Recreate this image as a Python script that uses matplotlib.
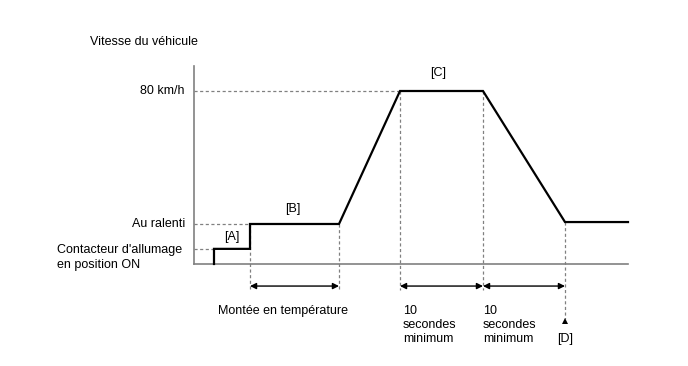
import matplotlib
matplotlib.use("Agg")
import matplotlib.pyplot as plt

plt.rcParams['font.family'] = ['Liberation Sans', 'DejaVu Sans']

# Speed profile (schematic): time units, speed in km/h
t_profile = [2.0, 2.0, 5.6, 5.6, 14.5, 20.6, 28.9, 37.1, 43.4]
v_profile = [0.0, 7.0, 7.0, 18.5, 18.5, 80.0, 80.0, 19.4, 19.4]

t_axis_end = 43.4
v_axis_top = 91.5
v_ignition = 7.0
v_idle = 18.5
v_max = 80.0

# Interval markers
t_warm = (5.6, 14.5)
t_hold1 = (20.6, 28.9)
t_hold2 = (28.9, 37.1)
t_D = 37.1
v_D = 19.4

y_labels = ["80 km/h", "Au ralenti"]
y_label_vals = [v_max, v_idle]

fig = plt.figure(figsize=(6.88, 3.66), dpi=100)
ax = fig.add_axes([0, 0, 1, 1])
ax.set_xlim(-19.4, 49.4)
ax.set_ylim(-47.17, 122.08)
ax.axis('off')

gray = '#808080'
fs = 9
# axes
ax.plot([0, 0], [0, v_axis_top], color=gray, lw=1.2)
ax.plot([0, t_axis_end], [0, 0], color=gray, lw=1.2)

# dashed reference lines
dash = dict(color=gray, lw=0.9, ls=(0, (2.5, 2)))
ax.plot([0, t_profile[1]], [v_ignition, v_ignition], **dash)
ax.plot([0, t_warm[0]], [v_idle, v_idle], **dash)
ax.plot([0, t_hold1[0]], [v_max, v_max], **dash)
y_arrow = -10.2
y_dash_bottom = -12.0
for tx, vy in [(t_warm[0], v_idle), (t_warm[1], v_idle), (t_hold1[0], v_max), (t_hold1[1], v_max)]:
    ax.plot([tx, tx], [vy, y_dash_bottom], **dash)
ax.plot([t_D, t_D], [v_D, -25.5], **dash)

# profile
ax.plot(t_profile, v_profile, color='black', lw=1.6, solid_joinstyle='miter')

# arrows
for a, b in [t_warm, t_hold1, t_hold2]:
    ax.annotate('', xy=(b, y_arrow), xytext=(a, y_arrow),
                arrowprops=dict(arrowstyle='<|-|>', color='black', lw=1.0,
                                mutation_scale=9, shrinkA=0, shrinkB=0))
# triangle pointing up at bottom of [D] marker line
ax.plot([t_D], [-26.4], marker='^', color='black', ms=5, mew=0)

# text
ax.text(-10.4, 102.5, "Vitesse du véhicule", fontsize=fs, ha='left', va='center')
for lab, v in zip(y_labels, y_label_vals):
    ax.text(-0.9, v, lab, fontsize=fs, ha='right', va='center')
ax.text(-13.7, 6.5, "Contacteur d'allumage", fontsize=fs, ha='left', va='center')
ax.text(-13.7, -0.5, "en position ON", fontsize=fs, ha='left', va='center')
ax.text(3.8, 12.5, "[A]", fontsize=fs, ha='center', va='center')
ax.text(9.9, 25.5, "[B]", fontsize=fs, ha='center', va='center')
ax.text(24.4, 88.3, "[C]", fontsize=fs, ha='center', va='center')
ax.text(8.9, -21.7, "Montée en température", fontsize=fs, ha='center', va='center')
ax.text(20.9, -28.2, "10\nsecondes\nminimum", fontsize=fs, ha='left', va='center', linespacing=1.2)
ax.text(28.9, -28.2, "10\nsecondes\nminimum", fontsize=fs, ha='left', va='center', linespacing=1.2)
ax.text(t_D, -34.9, "[D]", fontsize=fs, ha='center', va='center')

fig.savefig('out.png', dpi=100)
